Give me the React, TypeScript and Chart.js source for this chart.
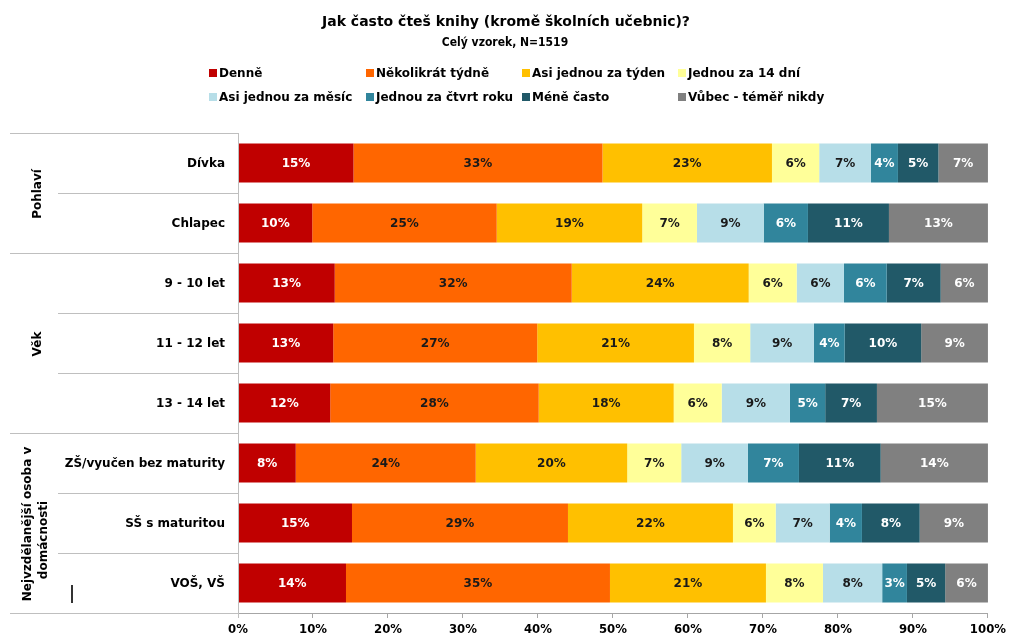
import React, { useEffect, useRef } from "react";
import { Chart, registerables } from "chart.js";

Chart.register(...registerables);

const categories = [
  "Dívka",
  "Chlapec",
  "9 - 10 let",
  "11 - 12 let",
  "13 - 14 let",
  "ZŠ/vyučen bez maturity",
  "SŠ s maturitou",
  "VOŠ, VŠ",
];

const seriesNames = [
  "Denně",
  "Několikrát týdně",
  "Asi jednou za týden",
  "Jednou za 14 dní",
  "Asi jednou za měsíc",
  "Jednou za čtvrt roku",
  "Méně často",
  "Vůbec - téměř nikdy",
];

const denne = [15.4, 9.9, 12.9, 12.7, 12.3, 7.7, 15.2, 14.4];
const nekolikratTydne = [33.2, 24.6, 31.6, 27.2, 27.8, 24.0, 28.8, 35.2];
const jednouZaTyden = [22.6, 19.4, 23.6, 20.9, 18.0, 20.2, 22.0, 20.8];
const jednouZa14Dni = [6.3, 7.3, 6.4, 7.5, 6.4, 7.2, 5.7, 7.6];
const jednouZaMesic = [6.9, 8.9, 6.3, 8.5, 9.1, 8.9, 7.2, 7.9];
const jednouZaCtvrtRoku = [3.6, 5.9, 5.7, 4.1, 4.7, 6.8, 4.3, 3.3];
const meneCasto = [5.4, 10.8, 7.2, 10.2, 6.9, 10.9, 7.7, 5.1];
const vubec = [6.6, 13.2, 6.3, 8.9, 14.8, 14.3, 9.1, 5.7];

const seriesValues = [
  denne,
  nekolikratTydne,
  jednouZaTyden,
  jednouZa14Dni,
  jednouZaMesic,
  jednouZaCtvrtRoku,
  meneCasto,
  vubec,
];

const colors = [
  "#C00000",
  "#FF6600",
  "#FFC000",
  "#FFFF99",
  "#B7DEE8",
  "#31859C",
  "#215968",
  "#808080",
];
const labelColors = [
  "#FFFFFF",
  "#1A1A1A",
  "#1A1A1A",
  "#1A1A1A",
  "#1A1A1A",
  "#FFFFFF",
  "#FFFFFF",
  "#FFFFFF",
];

const groups = [
  { lines: ["Pohlaví"], from: 0, to: 1 },
  { lines: ["Věk"], from: 2, to: 4 },
  { lines: ["Nejvzdělanější osoba v", "domácnosti"], from: 5, to: 7 },
];

const xTicks = [0, 10, 20, 30, 40, 50, 60, 70, 80, 90, 100];

const titleText = "Jak často čteš knihy (kromě školních učebnic)?";
const subtitleText = "Celý vzorek, N=1519";

const FONT = "'DejaVu Sans', sans-serif";
const FONT_C = "'DejaVu Sans Condensed', 'DejaVu Sans', sans-serif";
const LINE = "#BFBFBF";

const overlayPlugin = {
  id: "overlay",
  afterDatasetsDraw(chart: any) {
    const ctx = chart.ctx;
    ctx.save();
    ctx.textAlign = "center";
    ctx.textBaseline = "middle";
    ctx.font = `bold 12px ${FONT}`;
    chart.data.datasets.forEach((ds: any, di: number) => {
      const meta = chart.getDatasetMeta(di);
      meta.data.forEach((el: any, i: number) => {
        const v = ds.data[i];
        const cx = (el.x + el.base) / 2;
        ctx.fillStyle = labelColors[di];
        ctx.fillText(Math.round(v) + "%", cx, el.y + 1);
      });
    });
    ctx.restore();
  },
  afterDraw(chart: any) {
    const ctx = chart.ctx;
    const area = chart.chartArea;
    const y = chart.scales.y;
    ctx.save();

    // title
    ctx.fillStyle = "#000";
    ctx.textAlign = "center";
    ctx.textBaseline = "middle";
    ctx.font = `bold 14px ${FONT}`;
    ctx.fillText(titleText, 506, 22);
    ctx.font = `bold 12px ${FONT_C}`;
    ctx.fillText(subtitleText, 505, 43);

    // legend
    const colX = [219, 376, 532, 688];
    const rowY = [73, 97];
    ctx.textAlign = "left";
    ctx.font = `bold 12px ${FONT}`;
    chart.data.datasets.forEach((ds: any, di: number) => {
      const c = di % 4;
      const r = Math.floor(di / 4);
      const tx = colX[c];
      const ty = rowY[r];
      ctx.fillStyle = colors[di];
      ctx.fillRect(tx - 10, ty - 4, 8, 8);
      ctx.fillStyle = "#000";
      ctx.fillText(ds.label, tx, ty + 1);
    });

    // table lines
    const n = categories.length;
    const bound = (i: number) => {
      if (i <= 0) return area.top;
      if (i >= n) return area.bottom;
      return (y.getPixelForValue(i - 1) + y.getPixelForValue(i)) / 2;
    };
    ctx.strokeStyle = LINE;
    ctx.lineWidth = 1;
    const groupStarts = new Set(groups.map((g) => g.from));
    for (let i = 0; i <= n; i++) {
      const yy = Math.round(bound(i)) + 0.5;
      const x0 = i === n || groupStarts.has(i) ? 10 : 58;
      ctx.beginPath();
      ctx.moveTo(x0, yy);
      ctx.lineTo(area.left, yy);
      ctx.stroke();
    }
    ctx.beginPath();
    ctx.moveTo(Math.round(area.left) + 0.5, area.top);
    ctx.lineTo(Math.round(area.left) + 0.5, area.bottom + 5);
    ctx.stroke();

    // category labels
    ctx.fillStyle = "#000";
    ctx.textAlign = "right";
    ctx.font = `bold 12px ${FONT}`;
    categories.forEach((c, i) => {
      ctx.fillText(c, 225, y.getPixelForValue(i) + 1);
    });

    // group labels (rotated)
    ctx.textAlign = "center";
    groups.forEach((g) => {
      const top = bound(g.from);
      const bot = bound(g.to + 1);
      const cy = (top + bot) / 2 + 1;
      const nl = g.lines.length;
      g.lines.forEach((line, li) => {
        const cx = nl === 1 ? 38 : 28 + li * 16;
        const lcy = nl === 1 ? cy : cy + li * 16;
        ctx.save();
        ctx.translate(cx, lcy);
        ctx.rotate(-Math.PI / 2);
        ctx.fillText(line, 0, 0);
        ctx.restore();
      });
    });

    // small mark
    ctx.strokeStyle = "#333";
    ctx.lineWidth = 2;
    ctx.beginPath();
    ctx.moveTo(72, 585);
    ctx.lineTo(72, 603);
    ctx.stroke();

    ctx.restore();
  },
};

export default function App() {
  const canvasRef = useRef<HTMLCanvasElement | null>(null);

  useEffect(() => {
    document.body.style.margin = "0";
    const canvas = canvasRef.current;
    if (!canvas) return;
    const chart = new Chart(canvas, {
      type: "bar",
      data: {
        labels: categories,
        datasets: seriesNames.map((name, i) => ({
          label: name,
          data: seriesValues[i],
          backgroundColor: colors[i],
          borderWidth: 0,
          categoryPercentage: 0.65,
          barPercentage: 1,
        })),
      },
      options: {
        indexAxis: "y",
        animation: false,
        responsive: false,
        maintainAspectRatio: false,
        layout: { padding: { left: 238, right: 22, top: 133, bottom: 0 } },
        plugins: {
          legend: { display: false },
          title: { display: false },
          tooltip: { enabled: false },
        },
        scales: {
          x: {
            stacked: true,
            min: 0,
            max: 100,
            afterFit: (s: any) => {
              s.height = 26;
            },
            afterBuildTicks: (s: any) => {
              s.ticks = xTicks.map((v) => ({ value: v }));
            },
            ticks: {
              callback: (v: any) => v + "%",
              color: "#000",
              font: { family: FONT_C, size: 13, weight: "bold" },
              padding: 4,
              maxRotation: 0,
            },
            grid: {
              display: true,
              drawOnChartArea: false,
              drawTicks: true,
              tickLength: 5,
              color: "#A6A6A6",
            },
            border: { display: true, color: "#A6A6A6" },
          },
          y: {
            stacked: true,
            display: false,
          },
        },
      },
      plugins: [overlayPlugin],
    });
    return () => chart.destroy();
  }, []);

  return (
    <div style={{ width: 1010, height: 639, background: "#fff" }}>
      <canvas ref={canvasRef} width={1010} height={639} />
    </div>
  );
}
